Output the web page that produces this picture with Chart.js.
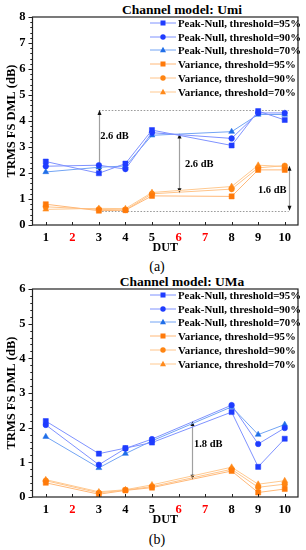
<!DOCTYPE html>
<html><head><meta charset="utf-8">
<script src="https://cdn.jsdelivr.net/npm/chart.js@4.4.1/dist/chart.umd.min.js"></script>
<style>
html,body{margin:0;padding:0;background:#fff;}
body{width:306px;height:550px;position:relative;overflow:hidden;font-family:"Liberation Serif","DejaVu Serif",serif;color:#000;}
.wrap{position:absolute;left:0;width:306px;height:255px;}
.cap{position:absolute;left:0;width:314px;text-align:center;font-size:14px;line-height:16px;}
.ttl{position:absolute;left:82px;width:200px;text-align:center;font-size:13.5px;font-weight:bold;line-height:16px;white-space:nowrap;}
.row{position:absolute;left:150px;height:14px;display:flex;align-items:center;font-weight:bold;font-size:10.8px;white-space:nowrap;}
.row svg{margin-right:2px;flex:none;}
</style></head>
<body>
<div class="ttl" id="t1" style="top:1.5px">Channel model: Umi</div>
<div class="wrap" style="top:0"><canvas id="c1" width="306" height="255"></canvas></div>
<div class="cap" style="top:259px">(a)</div>
<div class="ttl" id="t2" style="top:274px">Channel model: UMa</div>
<div class="wrap" style="top:272px"><canvas id="c2" width="306" height="255"></canvas></div>
<div class="cap" style="top:532px">(b)</div>
<div id="leg"></div>
<script>
// ---- data ----
const DUT = ['1','2','3','4','5','6','7','8','9','10'];
const missingDUT = ['2','6','7'];
const seriesLabels = ['Peak-Null, threshold=95%','Peak-Null, threshold=90%','Peak-Null, threshold=70%',
                      'Variance, threshold=95%','Variance, threshold=90%','Variance, threshold=70%'];

const umiPeakNull95 = [2.44, null, 1.99, 2.36, 3.65, null, null, 3.06, 4.38, 4.04];
const umiPeakNull90 = [2.26, null, 2.30, 2.15, 3.55, null, null, 3.33, 4.31, 4.31];
const umiPeakNull70 = [2.04, null, 2.22, 2.27, 3.45, null, null, 3.59, 4.25, 4.25];
const umiVariance95 = [0.80, null, 0.55, 0.57, 1.12, null, null, 1.10, 2.12, 2.12];
const umiVariance90 = [0.70, null, 0.60, 0.58, 1.20, null, null, 1.38, 2.20, 2.28];
const umiVariance70 = [0.60, null, 0.64, 0.63, 1.25, null, null, 1.48, 2.30, 2.25];

const umaPeakNull95 = [2.19, null, 1.25, 1.41, 1.57, null, null, 2.45, 0.87, 1.68];
const umaPeakNull90 = [2.08, null, 0.93, 1.40, 1.67, null, null, 2.65, 1.53, 1.99];
const umaPeakNull70 = [1.74, null, 0.84, 1.25, 1.62, null, null, 2.60, 1.80, 2.09];
const umaVariance95 = [0.41, null, 0.08, 0.19, 0.27, null, null, 0.75, 0.13, 0.23];
const umaVariance90 = [0.47, null, 0.12, 0.20, 0.30, null, null, 0.80, 0.28, 0.37];
const umaVariance70 = [0.50, null, 0.15, 0.21, 0.35, null, null, 0.86, 0.37, 0.47];

const umiYMax = 8, umaYMax = 6;
// annotations (x in DUT index units, y in dB)
const umiGuides = [{from:2, to:9.15, y:4.42}, {from:2, to:9.15, y:0.55}];
const umiArrows = [{x:2, y1:4.42, y2:2.02}, {x:5, y1:3.52, y2:1.22}, {x:9.16, y1:2.28, y2:0.55}];
const umiNotes  = [{x:2.05, y:3.43, text:'2.6 dB'}, {x:5.24, y:2.34, text:'2.6 dB'}, {x:7.99, y:1.34, text:'1.6 dB'}];
const umaGuides = [];
const umaArrows = [{x:5.51, y1:2.19, y2:0.50}];
const umaNotes  = [{x:5.58, y:1.51, text:'1.8 dB'}];

// ---- styles ----
const FAM = '"Liberation Serif", "DejaVu Serif", serif';
const styles = [
  {pt:'rect', r:3.6, mk:'#1f3cff', ln:'#7f92ff'},
  {pt:'circle', r:2.8, mk:'#1f3cff', ln:'#7f92ff'},
  {pt:'triangle', r:3.4, mk:'#1f6ee8', ln:'#72a4f4'},
  {pt:'rect', r:3.6, mk:'#ff7a0a', ln:'#ffb878'},
  {pt:'circle', r:2.8, mk:'#ff8512', ln:'#ffc48a'},
  {pt:'triangle', r:3.4, mk:'#ff8a1c', ln:'#ffc990'}
];

const decor = {
  id:'decor',
  beforeDatasetsDraw(chart, args, o){
    const {ctx, scales:{x,y}} = chart;
    ctx.save();
    ctx.lineWidth = 1;
    ctx.strokeStyle = '#9a9a9a';
    ctx.setLineDash([1.6,1.6]);
    (o.guides||[]).forEach(g=>{
      const yy = Math.round(y.getPixelForValue(g.y))+0.5;
      ctx.beginPath(); ctx.moveTo(x.getPixelForValue(g.from), yy); ctx.lineTo(x.getPixelForValue(g.to), yy); ctx.stroke();
    });
    ctx.setLineDash([]);
    (o.arrows||[]).forEach(a=>{
      const px = Math.round(x.getPixelForValue(a.x))+0.5;
      const pt = y.getPixelForValue(a.y1), pb = y.getPixelForValue(a.y2);
      ctx.strokeStyle = '#a0a0a0'; ctx.lineWidth = 1.2;
      ctx.beginPath(); ctx.moveTo(px, pt+3); ctx.lineTo(px, pb-3); ctx.stroke();
      ctx.fillStyle = '#111';
      ctx.beginPath(); ctx.moveTo(px, pt); ctx.lineTo(px-2, pt+5); ctx.lineTo(px+2, pt+5); ctx.closePath(); ctx.fill();
      ctx.beginPath(); ctx.moveTo(px, pb); ctx.lineTo(px-2, pb-5); ctx.lineTo(px+2, pb-5); ctx.closePath(); ctx.fill();
    });
    ctx.fillStyle = '#000';
    ctx.font = 'bold 10.5px ' + FAM;
    ctx.textBaseline = 'middle'; ctx.textAlign = 'left';
    (o.notes||[]).forEach(n=>{
      ctx.fillText(n.text, x.getPixelForValue(n.x), y.getPixelForValue(n.y));
    });
    ctx.restore();
  },
  afterDraw(chart){
    const {ctx, chartArea:a, scales:{x,y}} = chart;
    ctx.save();
    ctx.strokeStyle = '#222'; ctx.lineWidth = 1.2;
    ctx.strokeRect(a.left, a.top, a.right-a.left, a.bottom-a.top);
    ctx.lineWidth = 1;
    const max = y.max;
    for (let k=0; k<=max*5; k++){
      const v = k/5, py = Math.round(y.getPixelForValue(v))+0.5;
      const len = (k%5===0) ? 4 : 2.2;
      ctx.beginPath(); ctx.moveTo(a.left-len, py); ctx.lineTo(a.left, py); ctx.stroke();
    }
    DUT.forEach((d,i)=>{
      const px = Math.round(x.getPixelForValue(i))+0.5;
      ctx.beginPath(); ctx.moveTo(px, a.bottom); ctx.lineTo(px, a.bottom-3); ctx.stroke();
    });
    ctx.restore();
  }
};

function makeChart(id, series, ymax, guides, arrows, notes){
  const datasets = series.map((d,i)=>({
    label: seriesLabels[i], data: d, spanGaps: true,
    borderColor: styles[i].ln, backgroundColor: styles[i].mk,
    pointBackgroundColor: styles[i].mk, pointBorderColor: styles[i].mk, pointBorderWidth: 0.5,
    pointStyle: styles[i].pt, pointRadius: styles[i].r, borderWidth: 1, tension: 0
  }));
  return new Chart(document.getElementById(id), {
    type:'line',
    data:{labels: DUT, datasets},
    plugins:[decor],
    options:{
      responsive:false, animation:false, events:[],
      layout:{padding:{left:0, right:8, top:17, bottom:0}},
      plugins:{legend:{display:false}, tooltip:{enabled:false}, title:{display:false},
        decor:{guides, arrows, notes}},
      scales:{
        x:{type:'category', offset:true,
           grid:{display:false, drawTicks:false}, border:{display:false},
           ticks:{autoSkip:false, maxRotation:0, padding:5,
             color:(c)=> missingDUT.includes(DUT[c.index]) ? '#ff0000' : '#000',
             font:{family:FAM, size:12.5, weight:'bold'}},
           title:{display:true, text:'DUT', color:'#000', padding:{top:0,bottom:0}, font:{family:FAM, size:12, weight:'bold'}},
           afterFit:(s)=>{ s.height = 30; }},
        y:{min:0, max:ymax,
           grid:{display:false, drawTicks:false}, border:{display:false},
           ticks:{stepSize:1, padding:7, color:'#000', font:{family:FAM, size:12.5, weight:'bold'}},
           title:{display:true, text:'TRMS FS DML (dB)', color:'#000', padding:{top:4,bottom:0}, font:{family:FAM, size:12.5, weight:'bold'}},
           afterFit:(s)=>{ s.width = 32.5; }}
      }
    }
  });
}

const ch1 = makeChart('c1', [umiPeakNull95, umiPeakNull90, umiPeakNull70, umiVariance95, umiVariance90, umiVariance70], umiYMax, umiGuides, umiArrows, umiNotes);
const ch2 = makeChart('c2', [umaPeakNull95, umaPeakNull90, umaPeakNull70, umaVariance95, umaVariance90, umaVariance70], umaYMax, umaGuides, umaArrows, umaNotes);

// ---- HTML legends inside plot area ----
function icon(st){
  let m = '';
  if (st.pt==='rect') m = `<rect x="10.5" y="2.5" width="5" height="5" fill="${st.mk}"/>`;
  else if (st.pt==='circle') m = `<circle cx="13" cy="5" r="2.7" fill="${st.mk}"/>`;
  else m = `<polygon points="13,1.8 16,7.2 10,7.2" fill="${st.mk}"/>`;
  return `<svg width="26" height="10" viewBox="0 0 26 10"><line x1="0" y1="5" x2="26" y2="5" stroke="${st.ln}" stroke-width="1"/>${m}</svg>`;
}
function legend(chart, offsetTop){
  const top = chart.chartArea.top + offsetTop;
  const leg = document.getElementById('leg');
  seriesLabels.forEach((lab,i)=>{
    const r = document.createElement('div');
    r.className = 'row';
    r.style.top = (top + 5.7 + i*13.8 - 7) + 'px';
    r.innerHTML = icon(styles[i]) + '<span>' + lab + '</span>';
    leg.appendChild(r);
  });
}
legend(ch1, 0);
legend(ch2, 272);
</script>
</body></html>
